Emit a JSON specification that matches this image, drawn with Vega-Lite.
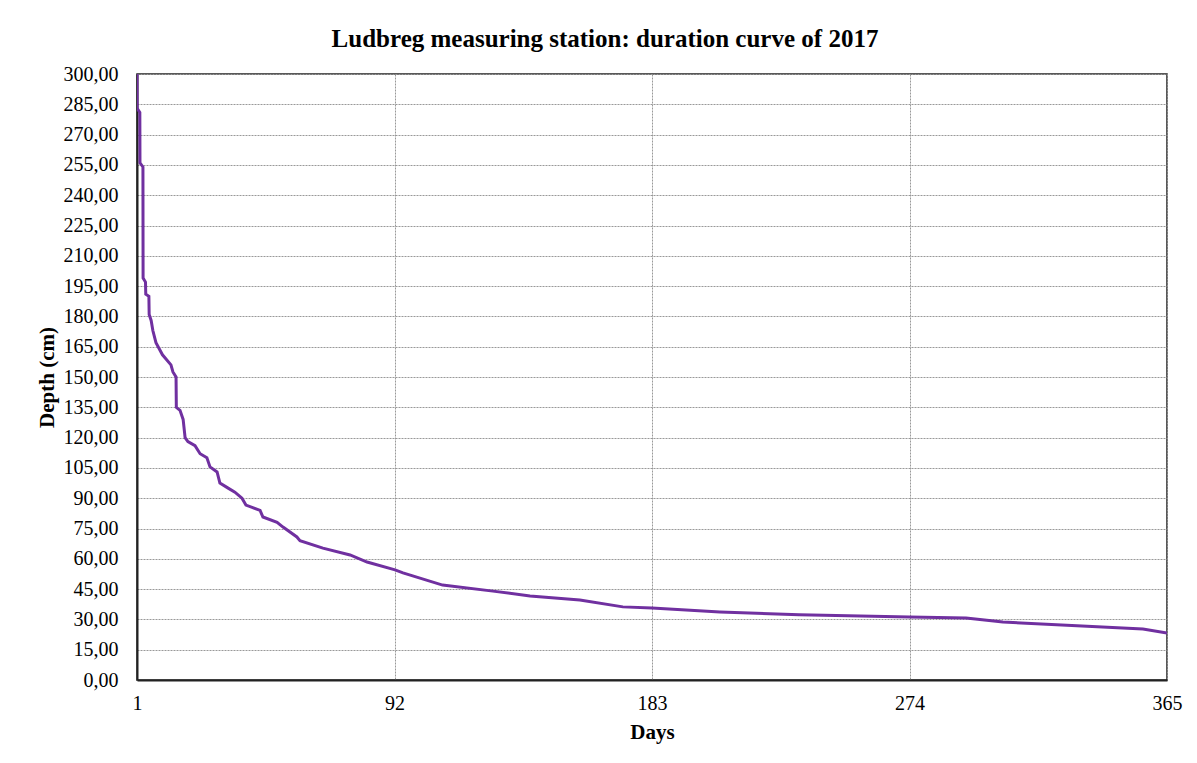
{
  "$schema": "https://vega.github.io/schema/vega-lite/v6.json",
  "width": 1030,
  "height": 606,
  "autosize": {"type": "none"},
  "padding": {"left": 137, "top": 74, "right": 30, "bottom": 83},
  "background": "white",
  "title": {
    "text": "Ludbreg measuring station: duration curve of 2017",
    "font": "Liberation Serif",
    "fontSize": 25,
    "fontWeight": "bold",
    "color": "#000000",
    "anchor": "middle",
    "dx": -47,
    "offset": 12
  },
  "config": {
    "view": {"stroke": "#222222", "strokeWidth": 1.5},
    "axis": {
      "labelFont": "Liberation Serif",
      "titleFont": "Liberation Serif",
      "labelColor": "#000000",
      "titleColor": "#000000",
      "labelFontSize": 20,
      "titleFontSize": 21,
      "titleFontWeight": "bold",
      "gridColor": "#999999",
      "gridDash": [2, 1],
      "gridWidth": 1,
      "domainColor": "#222222",
      "domainWidth": 2,
      "ticks": false
    }
  },
  "data": {
    "values": [
      {"day": 1, "depth": 300},
      {"day": 1.05, "depth": 283},
      {"day": 2, "depth": 281},
      {"day": 2.05, "depth": 256},
      {"day": 3.1, "depth": 254},
      {"day": 3.15, "depth": 199},
      {"day": 4, "depth": 197},
      {"day": 4.1, "depth": 191},
      {"day": 5.2, "depth": 190},
      {"day": 5.3, "depth": 181},
      {"day": 6, "depth": 178},
      {"day": 6.6, "depth": 173},
      {"day": 7.7, "depth": 167},
      {"day": 10, "depth": 161},
      {"day": 13, "depth": 156},
      {"day": 13.7, "depth": 152.5},
      {"day": 14.8, "depth": 150},
      {"day": 14.9, "depth": 135},
      {"day": 16.2, "depth": 133.5},
      {"day": 17.3, "depth": 129},
      {"day": 18, "depth": 120},
      {"day": 19, "depth": 118},
      {"day": 21.5, "depth": 116},
      {"day": 23.3, "depth": 112},
      {"day": 25.7, "depth": 110},
      {"day": 26.8, "depth": 105.5},
      {"day": 29.3, "depth": 103},
      {"day": 30.3, "depth": 97.5},
      {"day": 33.2, "depth": 95},
      {"day": 35.6, "depth": 93},
      {"day": 38.1, "depth": 90},
      {"day": 39.5, "depth": 86.6},
      {"day": 44.5, "depth": 84},
      {"day": 45.5, "depth": 80.7},
      {"day": 50.5, "depth": 78},
      {"day": 52.6, "depth": 75.7},
      {"day": 57.5, "depth": 70.8},
      {"day": 58.6, "depth": 69},
      {"day": 66.7, "depth": 65.3},
      {"day": 76.3, "depth": 61.9},
      {"day": 82.3, "depth": 58.4},
      {"day": 92.2, "depth": 54.5},
      {"day": 95, "depth": 53},
      {"day": 109, "depth": 47},
      {"day": 126.8, "depth": 44},
      {"day": 139.9, "depth": 41.6},
      {"day": 157.5, "depth": 39.6},
      {"day": 172.7, "depth": 36.2},
      {"day": 183, "depth": 35.6},
      {"day": 207, "depth": 33.7},
      {"day": 235, "depth": 32.3},
      {"day": 274, "depth": 31.2},
      {"day": 294, "depth": 30.7},
      {"day": 307, "depth": 28.7},
      {"day": 356.5, "depth": 25.2},
      {"day": 365, "depth": 23.3}
    ]
  },
  "mark": {"type": "line", "color": "#7030A0", "strokeWidth": 3, "clip": true},
  "encoding": {
    "x": {
      "field": "day",
      "type": "quantitative",
      "scale": {"domain": [1, 365], "nice": false, "zero": false},
      "axis": {
        "title": "Days",
        "values": [1, 92, 183, 274, 365],
        "labelPadding": 13,
        "titlePadding": 8,
        "labelFlush": false
      }
    },
    "y": {
      "field": "depth",
      "type": "quantitative",
      "scale": {"domain": [0, 300], "nice": false},
      "axis": {
        "title": "Depth (cm)",
        "values": [0, 15, 30, 45, 60, 75, 90, 105, 120, 135, 150, 165, 180, 195, 210, 225, 240, 255, 270, 285, 300],
        "labelExpr": "replace(format(datum.value, '.2f'), '.', ',')",
        "labelPadding": 19,
        "titlePadding": 6
      }
    }
  }
}
